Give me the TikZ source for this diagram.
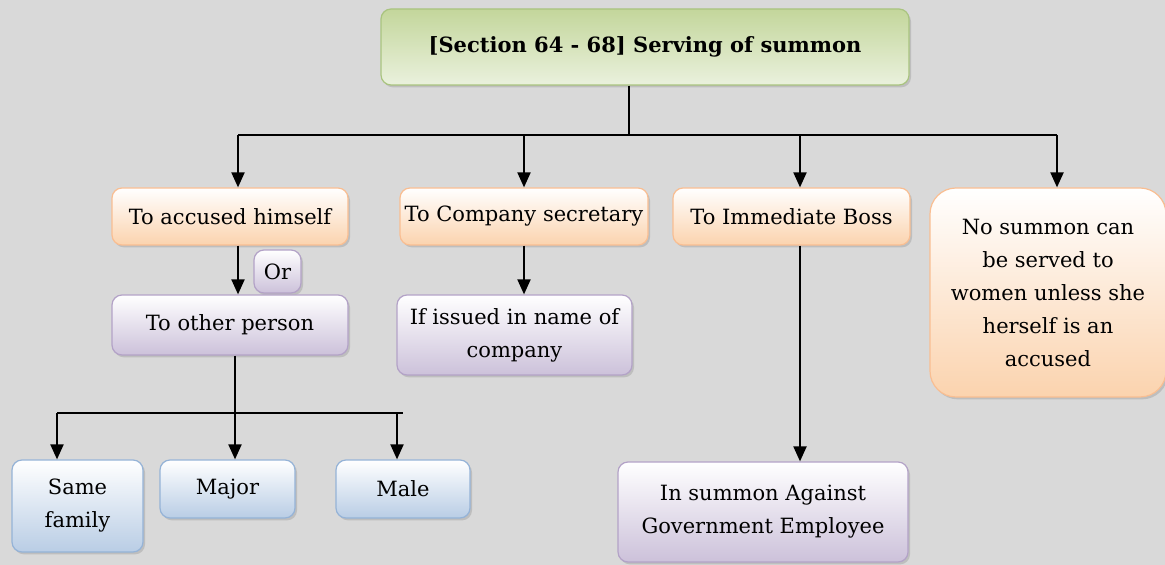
\documentclass[tikz,border=0pt]{standalone}
\usepackage{fontspec}
\setmainfont{DejaVu Serif}
\usepackage{tikz}
\usetikzlibrary{shapes.geometric, arrows.meta, positioning, shadows}
\definecolor{bggray}{HTML}{D9D9D9}
\definecolor{grnline}{HTML}{A9C47F}
\definecolor{grntop}{HTML}{C3D69B}
\definecolor{grnbot}{HTML}{EAF1DD}
\definecolor{orgline}{HTML}{F9BE92}
\definecolor{orgbot}{HTML}{FBD3AE}
\definecolor{prpline}{HTML}{B3A2C7}
\definecolor{prpbot}{HTML}{CCC1DA}
\definecolor{blueline}{HTML}{95B3D7}
\definecolor{bluebot}{HTML}{B9CDE5}
\tikzstyle{base} = [rectangle, rounded corners=5pt, text centered, align=center, inner sep=2pt, line width=0.6pt, font=\fontsize{10.5}{16.5}\selectfont, drop shadow={opacity=0.3, shadow xshift=1pt, shadow yshift=-1.2pt}]
\tikzstyle{headbox} = [base, draw=grnline, top color=grntop, bottom color=grnbot, font=\bfseries\fontsize{10.5}{16}\selectfont]
\tikzstyle{waybox} = [base, draw=orgline, top color=white, bottom color=orgbot]
\tikzstyle{notebox} = [base, rounded corners=13pt, draw=orgline, top color=white, bottom color=orgbot]
\tikzstyle{sidebox} = [base, draw=prpline, top color=white, bottom color=prpbot]
\tikzstyle{leafbox} = [base, draw=blueline, top color=white, bottom color=bluebot]
\tikzstyle{line} = [line width=1pt]
\tikzstyle{arrow} = [line width=1pt,-{Triangle[width=6.5pt,length=7.5pt]}]

\begin{document}
\begin{tikzpicture}[x=0.5pt, y=-0.5pt]
\fill [bggray] (0,0) rectangle (1165,565);
\useasboundingbox (0,0) rectangle (1165,565);

\node (head) [headbox, minimum width=264pt, minimum height=38pt] at (645,47) {[Section 64 - 68] Serving of summon};
\node (accused) [waybox, minimum width=118pt, minimum height=28.5pt] at (230,216.5) {To accused himself};
\node (company) [waybox, minimum width=124pt, minimum height=28.5pt] at (524,216.5) {To Company secretary};
\node (boss) [waybox, minimum width=118.5pt, minimum height=28.5pt] at (791.5,216.5) {To Immediate Boss};
\node (women) [notebox, minimum width=118pt, minimum height=104.5pt] at (1048,292.5) {No summon can\\be served to\\women unless she\\herself is an\\accused};
\node (or) [sidebox, minimum width=23.5pt, minimum height=21.5pt, inner sep=1pt] at (277.5,271.5) {Or};
\node (other) [sidebox, minimum width=118pt, minimum height=30pt] at (230,325) {To other person};
\node (issued) [sidebox, minimum width=117.5pt, minimum height=40pt] at (514.5,335) {If issued in name of\\company};
\node (govt) [sidebox, minimum width=145pt, minimum height=50pt] at (763,512) {In summon Against\\Government Employee};
\node (family) [leafbox, minimum width=65.5pt, minimum height=46pt] at (77.5,506) {Same\\family};
\node (major) [leafbox, minimum width=67.5pt, minimum height=29pt] at (227.5,489) {Major};
\node (male) [leafbox, minimum width=67pt, minimum height=29pt] at (403,489) {Male};

\coordinate (split) at (629,135);
\coordinate (bus-accused) at (238,135);
\coordinate (bus-company) at (524,135);
\coordinate (bus-boss) at (800,135);
\coordinate (bus-women) at (1057,135);
\coordinate (fork) at (235,413);
\coordinate (fork-family) at (57,413);
\coordinate (fork-male) at (397,413);
\coordinate (fork-end) at (403,413);

\draw [line] (head.south -| split) -- (split);
\draw [line] (bus-accused) -- (bus-women);
\draw [arrow] (bus-accused) -- (bus-accused |- accused.north);
\draw [arrow] (bus-company) -- (bus-company |- company.north);
\draw [arrow] (bus-boss) -- (bus-boss |- boss.north);
\draw [arrow] (bus-women) -- (bus-women |- women.north);
\draw [arrow] (accused.south -| bus-accused) -- (other.north -| bus-accused);
\draw [arrow] (company.south) -- (company.south |- issued.north);
\draw [arrow] (boss.south -| bus-boss) -- (bus-boss |- govt.north);
\draw [line] (other.south -| fork) -- (fork);
\draw [line] (fork-family) -- (fork-end);
\draw [arrow] (fork-family) -- (fork-family |- family.north);
\draw [arrow] (fork) -- (fork |- major.north);
\draw [arrow] (fork-male) -- (fork-male |- male.north);
\end{tikzpicture}
\end{document}
